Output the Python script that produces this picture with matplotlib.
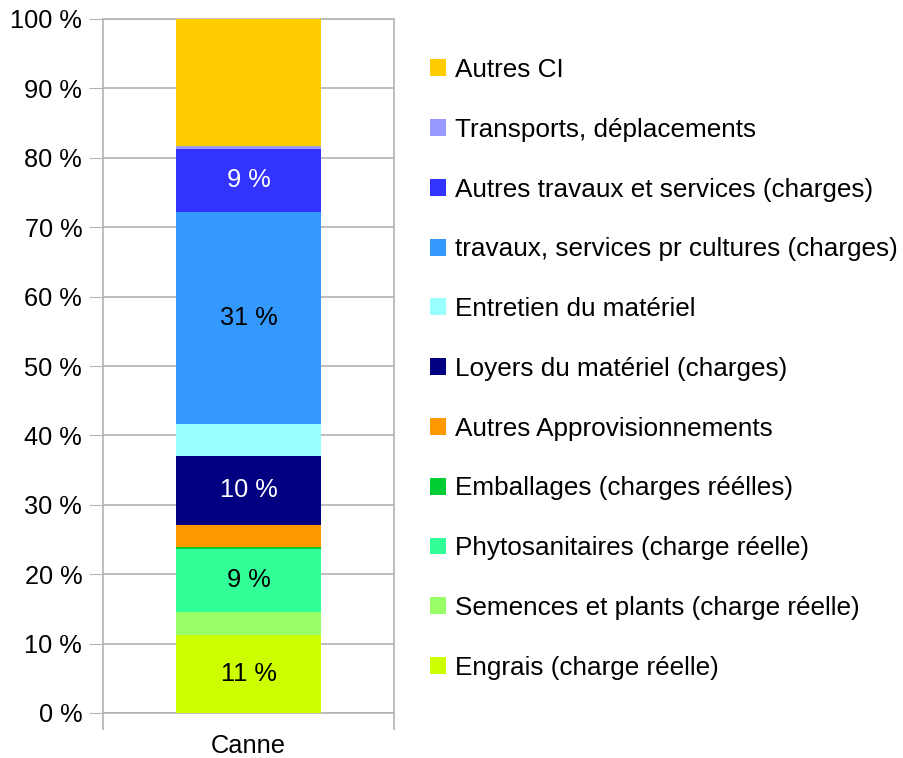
import matplotlib
matplotlib.use('Agg')
import matplotlib.pyplot as plt
from matplotlib.patches import Patch

plt.rcParams['font.family'] = ['Liberation Sans', 'DejaVu Sans']

# données (bas -> haut), en %
category = 'Canne'
postes = [
    'Engrais (charge réelle)',
    'Semences et plants (charge réelle)',
    'Phytosanitaires (charge réelle)',
    'Emballages (charges réélles)',
    'Autres Approvisionnements',
    'Loyers du matériel (charges)',
    'Entretien du matériel',
    'travaux, services pr cultures (charges)',
    'Autres travaux et services (charges)',
    'Transports, déplacements',
    'Autres CI',
]
parts = [11.2, 3.3, 9.2, 0.15, 3.25, 9.95, 4.55, 30.6, 9.1, 0.35, 18.35]
couleurs = ['#ccff00', '#99ff66', '#33ff99', '#00cc33', '#ff9900', '#000080',
            '#99ffff', '#3399ff', '#3333ff', '#9999ff', '#ffcc00']
etiquettes = ['11 %', None, '9 %', None, None, '10 %', None, '31 %', '9 %', None, None]
couleur_texte = ['black', None, 'black', None, None, 'white', None, 'black', 'white', None, None]

FS = 18.3
FS_LEG = 18.8
W, H = 904, 758
fig = plt.figure(figsize=(W / 100, H / 100), dpi=100)
ax = fig.add_axes([103 / W, 1 - 713 / H, (394 - 103) / W, (713 - 19) / H])

grid_col = '#b3b3b3'
bottom = 0
for val, col, lab, tcol in zip(parts, couleurs, etiquettes, couleur_texte):
    ax.bar(0, val, width=0.5, bottom=bottom, color=col, zorder=3)
    if lab:
        ax.text(0, bottom + val / 2, lab, ha='center', va='center',
                fontsize=FS, color=tcol, zorder=4)
    bottom += val

ax.set_xlim(-0.5, 0.5)
ax.set_ylim(0, 100)
ax.set_yticks(range(0, 101, 10))
ax.set_yticklabels([f'{v} %' for v in range(0, 101, 10)])
ax.set_xticks([0])
ax.set_xticklabels([category])
ax.set_xticks([-0.5, 0.5], minor=True)
ax.tick_params(axis='y', length=10, color=grid_col, labelsize=FS, pad=5)
ax.tick_params(axis='x', which='major', length=0, labelsize=FS, pad=15)
ax.tick_params(axis='x', which='minor', length=12, color=grid_col, width=1.2)
ax.yaxis.grid(True, color=grid_col, lw=1.2, zorder=0)
for s in ax.spines.values():
    s.set_color(grid_col)
    s.set_linewidth(1.2)

handles = [Patch(facecolor=c, edgecolor='none') for c in couleurs[::-1]]
fig.legend(handles, postes[::-1], loc='upper left',
           bbox_to_anchor=(430 / W, 1 - 58 / H), frameon=False,
           fontsize=FS_LEG, handlelength=0.62, handleheight=0.62,
           handletextpad=0.33, labelspacing=1.37, borderpad=0, borderaxespad=0)

fig.savefig('out.png', dpi=100)
